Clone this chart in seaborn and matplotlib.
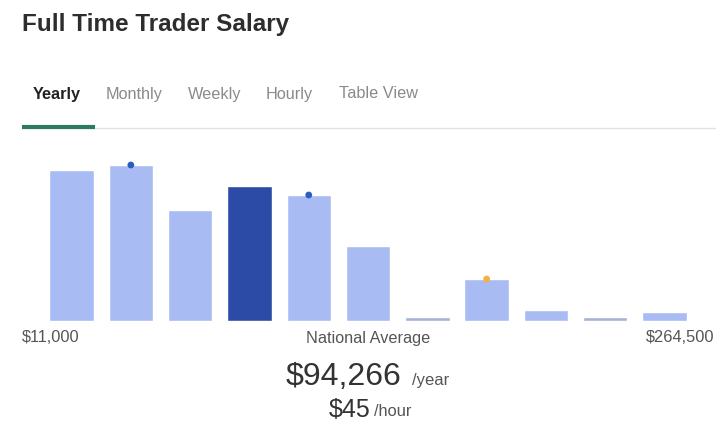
import matplotlib
matplotlib.use("Agg")
import matplotlib.pyplot as plt
import seaborn as sns

# bar heights (relative)
bins = ["b1", "b2", "b3", "b4", "b5", "b6", "b7", "b8", "b9", "b10", "b11"]
heights = [151, 156, 111, 135, 126, 75, 4.5, 42, 11, 4.5, 9]
bar_colors = ["#a9bbf3", "#a9bbf3", "#a9bbf3", "#2c4ba7", "#a9bbf3", "#a9bbf3",
              "#a6b2d8", "#a9bbf3", "#a9bbf3", "#a6b2d8", "#a9bbf3"]

# markers sitting on top of some bars
marker_bins = [1, 4, 7]
marker_colors = ["#2a5cc4", "#2a5cc4", "#f2b33d"]

tabs = ["Yearly", "Monthly", "Weekly", "Hourly", "Table View"]
tab_x = [33, 106, 188, 266, 339]
range_low = "$11,000"
range_high = "$264,500"
avg_year = "$94,266"
avg_hour = "$45"

sns.set_theme(style="white")
plt.rcParams["font.family"] = ["Liberation Sans", "DejaVu Sans"]

W, H = 720, 441
fig = plt.figure(figsize=(7.2, 4.41), dpi=100)

# bar axes placed in pixel coordinates
left, right, top, bottom = 41.9, 694.2, 150, 321
ax = fig.add_axes([left / W, 1 - bottom / H, (right - left) / W, (bottom - top) / H])
sns.barplot(x=bins, y=heights, hue=bins, palette=bar_colors, legend=False,
            width=0.75, saturation=1, ax=ax)
ax.scatter(marker_bins, [heights[i] for i in marker_bins], c=marker_colors,
           s=24, zorder=5, linewidths=0)
ax.set_xlim(-0.5, len(bins) - 0.5)
ax.set_ylim(0, 171)
ax.axis("off")

def px(x, y):
    return x / W, 1 - y / H

# title
fig.text(*px(22, 24), "Full Time Trader Salary", fontsize=17.5, fontweight="bold",
         color="#2d2d2d", va="center", ha="left")

# tabs
for i, (t, x) in enumerate(zip(tabs, tab_x)):
    fig.text(*px(x, 94), t, fontsize=11.7, va="center", ha="left",
             color="#222222" if i == 0 else "#8a8a8a",
             fontweight="bold" if i == 0 else "normal")

# tab underline
fig.add_artist(plt.Line2D([22 / W, 715 / W], [1 - 128 / H] * 2, color="#e2e2e2", lw=1))
fig.add_artist(plt.Line2D([22 / W, 95 / W], [1 - 127 / H] * 2, color="#2e7a5c", lw=3,
                          solid_capstyle="butt"))

# range and average labels
fig.text(*px(22, 338), range_low, fontsize=11.8, color="#555555", va="center", ha="left")
fig.text(*px(714, 338), range_high, fontsize=11.8, color="#555555", va="center", ha="right")
fig.text(*px(368, 338), "National Average", fontsize=11.7, color="#555555",
         va="center", ha="center")

fig.text(*px(401, 377), avg_year, fontsize=23, color="#333333", va="center", ha="right")
fig.text(*px(412, 381), "/year", fontsize=12, color="#555555", va="center", ha="left")
fig.text(*px(371, 410), avg_hour, fontsize=18, color="#333333", va="center", ha="right")
fig.text(*px(374, 411), "/hour", fontsize=11.8, color="#555555", va="center", ha="left")

fig.savefig("out.png", dpi=100, facecolor="white")
